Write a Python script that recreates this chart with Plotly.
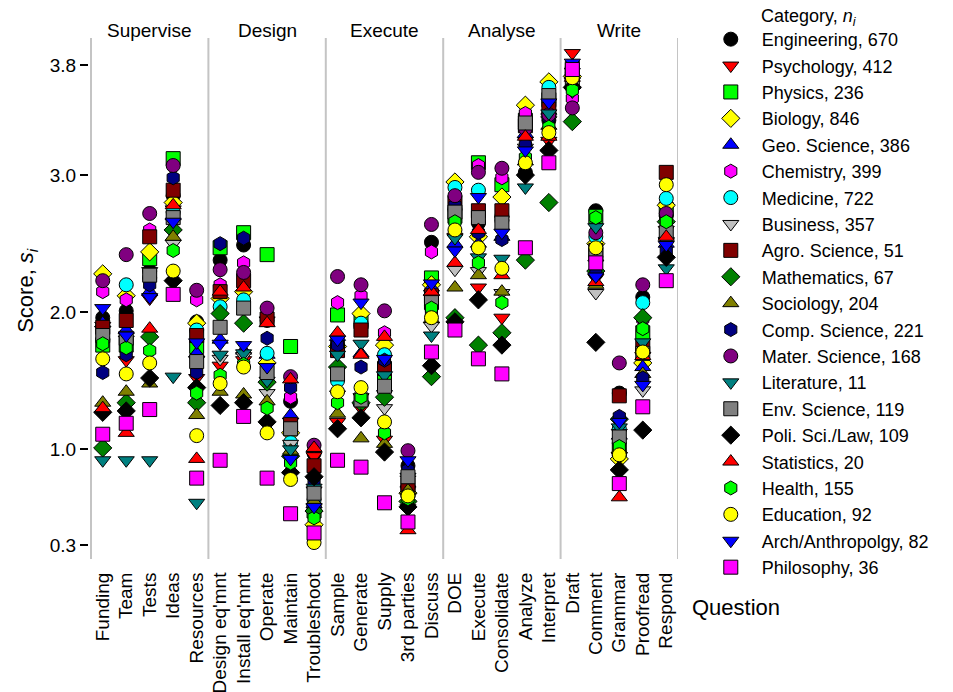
import plotly.graph_objects as go

# Questions, in the order they appear along the x axis (5 per section)
questions = [
    "Funding", "Team", "Tests", "Ideas", "Resources",
    "Design eq'mnt", "Install eq'mnt", "Operate", "Maintain", "Troubleshoot",
    "Sample", "Generate", "Supply", "3rd parties", "Discuss",
    "DOE", "Execute", "Consolidate", "Analyze", "Interpret",
    "Draft", "Comment", "Grammar", "Proofread", "Respond",
]
sections = ["Supervise", "Design", "Execute", "Analyse", "Write"]

y_ticks = [0.3, 1.0, 2.0, 3.0, 3.8]

# Category names and respondent counts n_i
categories = [
    "Engineering", "Psychology", "Physics", "Biology", "Geo. Science",
    "Chemistry", "Medicine", "Business", "Agro. Science", "Mathematics",
    "Sociology", "Comp. Science", "Mater. Science", "Literature", "Env. Science",
    "Poli. Sci./Law", "Statistics", "Health", "Education", "Arch/Anthropolgy",
    "Philosophy",
]
counts = [670, 412, 236, 846, 386, 399, 722, 357, 51, 67, 204, 221, 168, 11,
          119, 109, 20, 155, 92, 82, 36]

# Mean score s_i per question, one list per category
engineering = [1.96, 2.01, 2.30, 2.85, 1.93, 2.38, 2.49, 1.94, 1.35, 0.97, 1.78, 1.90, 1.60,
               0.88, 2.51, 2.75, 2.65, 2.70, 3.02, 3.40, 3.75, 2.74, 1.41, 2.11, 2.70]
psychology = [1.90, 1.65, 2.10, 2.75, 1.52, 1.61, 1.65, 1.94, 1.20, 0.95, 1.20, 1.30, 1.07,
              0.57, 2.10, 2.55, 2.18, 1.96, 3.25, 3.25, 3.89, 2.25, 0.95, 1.68, 2.60]
physics = [1.76, 1.76, 2.39, 3.12, 1.75, 2.47, 2.58, 2.42, 1.75, 0.55, 1.98, 1.93, 1.55,
           0.70, 2.25, 2.70, 3.09, 2.93, 3.40, 3.55, 3.78, 2.70, 1.00, 1.85, 2.75]
biology = [2.28, 2.12, 2.44, 2.80, 1.92, 2.10, 2.15, 1.63, 1.12, 0.45, 1.75, 1.99, 1.76,
           0.68, 2.20, 2.95, 2.55, 2.84, 3.51, 3.68, 3.72, 2.50, 0.93, 1.63, 2.78]
geo_science = [1.92, 1.87, 2.15, 2.70, 1.70, 1.80, 1.72, 1.69, 1.25, 0.60, 1.82, 1.70, 1.45,
               0.75, 2.18, 2.50, 2.50, 2.55, 3.30, 3.47, 3.80, 2.40, 1.10, 1.60, 2.50]
chemistry = [2.15, 2.09, 2.60, 2.90, 2.09, 2.20, 2.36, 1.98, 1.38, 0.85, 2.07, 2.12, 1.85,
             0.82, 2.44, 2.80, 3.07, 2.98, 3.45, 3.50, 3.56, 2.35, 1.05, 1.95, 2.68]
medicine = [1.80, 2.20, 2.25, 2.73, 1.87, 2.04, 2.09, 1.70, 1.05, 0.63, 1.50, 1.92, 1.69,
            0.72, 2.05, 2.91, 2.89, 2.67, 3.35, 3.64, 3.70, 2.55, 1.15, 2.07, 2.83]
business = [1.87, 1.80, 2.30, 2.50, 1.65, 1.66, 1.68, 1.41, 1.04, 0.70, 1.40, 1.38, 1.30,
            0.78, 1.90, 2.31, 2.30, 2.14, 3.20, 3.40, 3.68, 2.14, 1.12, 1.43, 2.52]
agro_science = [1.89, 1.94, 2.55, 2.89, 1.83, 2.15, 2.23, 1.95, 1.18, 0.88, 1.72, 1.87, 1.59,
                0.74, 2.12, 2.80, 2.74, 2.74, 3.36, 3.48, 3.74, 2.45, 1.39, 1.75, 3.02]
mathematics = [1.01, 1.34, 1.82, 2.60, 1.34, 1.99, 1.92, 1.49, 0.95, 0.55, 1.60, 1.34, 1.38,
               0.62, 1.53, 1.96, 1.76, 1.85, 2.38, 2.80, 3.39, 2.30, 1.22, 1.96, 2.66]
sociology = [1.34, 1.42, 1.48, 2.55, 1.25, 1.42, 1.40, 1.35, 0.99, 0.62, 1.26, 1.08, 1.04,
             0.70, 1.95, 2.18, 2.27, 2.15, 3.10, 3.36, 3.66, 2.20, 1.00, 1.55, 2.56]
comp_science = [1.56, 1.69, 2.20, 2.98, 1.56, 2.50, 2.54, 1.81, 1.45, 0.76, 1.76, 1.60, 1.65,
                0.85, 2.00, 2.78, 2.58, 2.53, 3.22, 3.42, 3.73, 2.28, 1.24, 1.52, 2.45]
mater_science = [2.23, 2.42, 2.72, 3.07, 2.16, 2.31, 2.29, 2.03, 1.53, 1.03, 2.26, 2.20, 2.01,
                 0.99, 2.64, 2.85, 3.02, 3.05, 3.34, 3.44, 3.49, 2.58, 1.63, 2.20, 2.72]
literature = [0.92, 0.92, 0.92, 1.53, 0.61, 1.69, 1.70, 1.50, 1.00, 0.72, 1.69, 1.77, 1.54,
              0.80, 1.83, 2.54, 2.40, 2.39, 2.91, 3.45, 3.61, 2.62, 1.16, 1.78, 2.32]
env_science = [1.83, 1.81, 2.27, 2.69, 1.64, 1.89, 2.03, 1.56, 1.15, 0.68, 1.55, 1.36, 1.46,
               0.80, 2.07, 2.73, 2.69, 2.65, 3.38, 3.58, 3.69, 2.42, 1.09, 1.70, 2.58]
poli_sci_law = [1.27, 1.28, 1.52, 2.23, 1.45, 1.32, 1.34, 1.20, 0.83, 0.80, 1.15, 1.23, 0.98,
                0.58, 1.61, 1.93, 2.09, 1.76, 3.00, 3.18, 3.64, 1.78, 0.85, 1.14, 2.40]
statistics = [1.30, 1.12, 1.88, 2.78, 0.93, 2.15, 2.18, 1.92, 1.51, 1.01, 1.85, 1.69, 1.82,
              0.41, 2.15, 2.36, 2.60, 2.27, 3.28, 3.28, 3.71, 2.22, 0.65, 1.68, 2.55]
health = [1.77, 1.74, 1.72, 2.45, 1.41, 1.54, 1.62, 1.30, 0.90, 0.50, 1.34, 1.38, 1.12,
          0.64, 2.03, 2.66, 2.36, 2.07, 3.13, 3.35, 3.62, 2.69, 1.02, 1.88, 2.66]
education = [1.66, 1.55, 1.63, 2.30, 1.10, 1.48, 1.60, 1.12, 0.78, 0.32, 1.42, 1.45, 1.20,
             0.66, 1.96, 2.60, 2.47, 2.32, 3.09, 3.31, 3.71, 2.47, 0.96, 1.71, 2.93]
arch_anthropology = [2.03, 1.83, 2.11, 2.66, 1.78, 1.77, 1.76, 1.60, 0.93, 0.58, 1.80, 2.07, 1.66,
                     0.92, 2.21, 2.45, 2.84, 2.58, 3.18, 3.53, 3.82, 2.26, 1.20, 1.47, 2.49]
philosophy = [1.11, 1.19, 1.29, 2.13, 0.79, 0.92, 1.24, 0.79, 0.53, 0.39, 0.92, 0.87, 0.61,
              0.47, 1.71, 1.87, 1.66, 1.55, 2.47, 3.09, 3.77, 2.36, 0.75, 1.31, 2.23]

scores = [engineering, psychology, physics, biology, geo_science, chemistry, medicine,
          business, agro_science, mathematics, sociology, comp_science, mater_science,
          literature, env_science, poli_sci_law, statistics, health, education,
          arch_anthropology, philosophy]

# Marker style per category
colors = ["#000000", "#ff0000", "#00ff00", "#ffff00", "#0000ff", "#ff00ff", "#00ffff",
          "#c0c0c0", "#800000", "#008000", "#808000", "#000080", "#800080", "#008080",
          "#808080", "#000000", "#ff0000", "#00ff00", "#ffff00", "#0000ff", "#ff00ff"]
symbols = ["circle", "triangle-down", "square", "diamond", "triangle-up", "hexagon",
           "circle", "triangle-down", "square", "diamond", "triangle-up", "hexagon",
           "circle", "triangle-down", "square", "diamond", "triangle-up", "hexagon",
           "circle", "triangle-down", "square"]

FONT = "Liberation Sans, Arial, Helvetica, sans-serif"

fig = go.Figure()
for name, n, vals, col, sym in zip(categories, counts, scores, colors, symbols):
    fig.add_trace(go.Scatter(
        x=questions, y=vals, mode="markers", name=f"{name}, {n}",
        marker=dict(symbol=sym, color=col, size=14,
                    line=dict(color="#000000", width=1)),
    ))

# Section separators and headings
shapes = []
for b in [-0.5, 4.5, 9.5, 14.5, 19.5, 24.5]:
    shapes.append(dict(type="line", xref="x", yref="paper", x0=b, x1=b, y0=0, y1=1,
                       line=dict(color="#c4c4c4", width=2), layer="below"))
annotations = []
for i, s in enumerate(sections):
    annotations.append(dict(x=i * 5 + 2, y=1, xref="x", yref="paper", text=s,
                            showarrow=False, xanchor="center", yanchor="bottom",
                            yshift=-5,
                            font=dict(size=19, color="black", family=FONT)))
annotations.append(dict(x=-0.105, y=0.515, xref="paper", yref="paper",
                        text="Score, <i>s</i><sub><i>i</i></sub>", textangle=-90,
                        showarrow=False, xanchor="center", yanchor="middle",
                        font=dict(size=22, color="black", family=FONT)))
annotations.append(dict(x=1.02, y=-0.093, xref="paper", yref="paper", text="Question",
                        showarrow=False, xanchor="left", yanchor="middle",
                        font=dict(size=22, color="black", family=FONT)))
annotations.append(dict(x=1.137, y=1.04, xref="paper", yref="paper",
                        text="Category, <i>n</i><sub><i>i</i></sub>",
                        showarrow=False, xanchor="left", yanchor="middle",
                        font=dict(size=18, color="black", family=FONT)))

fig.update_layout(
    width=953, height=692,
    margin=dict(l=89, r=275, t=38, b=133.4, autoexpand=False),
    paper_bgcolor="white", plot_bgcolor="white",
    font=dict(family=FONT, color="black"),
    showlegend=True,
    legend=dict(x=1.037, y=1.0327, xanchor="left", yanchor="top",
                font=dict(size=18, family=FONT, color="black"),
                itemwidth=52, bgcolor="rgba(0,0,0,0)", borderwidth=0,
                maxheight=680),
    shapes=shapes, annotations=annotations,
    xaxis=dict(type="category", categoryarray=questions, categoryorder="array",
               range=[-0.585, 24.5], showgrid=False, zeroline=False, showline=False,
               automargin=False,
               ticks="outside", ticklen=5, tickcolor="rgba(0,0,0,0)",
               tickangle=-90, tickfont=dict(size=19, color="black", family=FONT)),
    yaxis=dict(range=[0.2, 4.0], tickvals=y_ticks, ticktext=["0.3", "1.0", "2.0", "3.0", "3.8"],
               showgrid=False, zeroline=False, showline=False, automargin=False,
               ticks="outside", ticklen=8, tickwidth=2, tickcolor="black",
               tickfont=dict(size=19, color="black", family=FONT)),
)

fig.write_html("out.html")
